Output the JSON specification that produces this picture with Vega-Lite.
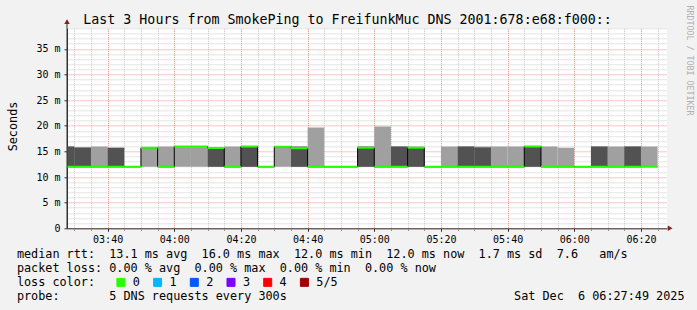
{
  "$schema": "https://vega.github.io/schema/vega-lite/v6.json",
  "autosize": {"type": "none"},
  "width": 600,
  "height": 200,
  "padding": {"left": 67, "top": 28.3, "right": 30, "bottom": 81.7},
  "background": "#f2f2f2",
  "title": {
    "text": "Last 3 Hours from SmokePing to FreifunkMuc DNS 2001:678:e68:f000::",
    "font": "DejaVu Sans Mono",
    "fontSize": 13.3,
    "fontWeight": "normal",
    "color": "#000000",
    "anchor": "middle",
    "frame": "group",
    "dx": -19.5,
    "dy": 36,
    "offset": 4,
    "baseline": "alphabetic"
  },
  "data": {
    "values": [
      {"start": "2025-12-06T03:25:00", "end": "2025-12-06T03:30:00", "lo": 12, "hi": 15.94, "dhi": 15.94, "med": 12, "loss": "0"},
      {"start": "2025-12-06T03:30:00", "end": "2025-12-06T03:35:00", "lo": 12, "hi": 15.75, "dhi": 15.75, "med": 12, "loss": "0"},
      {"start": "2025-12-06T03:35:00", "end": "2025-12-06T03:40:00", "lo": 12, "hi": 15.94, "dhi": null, "med": 12, "loss": "0"},
      {"start": "2025-12-06T03:40:00", "end": "2025-12-06T03:45:00", "lo": 12, "hi": 15.7, "dhi": 15.7, "med": 12, "loss": "0"},
      {"start": "2025-12-06T03:45:00", "end": "2025-12-06T03:50:00", "lo": 12, "hi": 12, "dhi": null, "med": 12, "loss": "0"},
      {"start": "2025-12-06T03:50:00", "end": "2025-12-06T03:55:00", "lo": 12, "hi": 15.8, "dhi": null, "med": 15.7, "loss": "0"},
      {"start": "2025-12-06T03:55:00", "end": "2025-12-06T04:00:00", "lo": 12, "hi": 15.94, "dhi": null, "med": 12, "loss": "0"},
      {"start": "2025-12-06T04:00:00", "end": "2025-12-06T04:05:00", "lo": 12, "hi": 16.0, "dhi": null, "med": 15.95, "loss": "0"},
      {"start": "2025-12-06T04:05:00", "end": "2025-12-06T04:10:00", "lo": 12, "hi": 16.0, "dhi": null, "med": 15.95, "loss": "0"},
      {"start": "2025-12-06T04:10:00", "end": "2025-12-06T04:15:00", "lo": 12, "hi": 15.7, "dhi": 15.7, "med": 15.65, "loss": "0"},
      {"start": "2025-12-06T04:15:00", "end": "2025-12-06T04:20:00", "lo": 12, "hi": 15.94, "dhi": null, "med": 12, "loss": "0"},
      {"start": "2025-12-06T04:20:00", "end": "2025-12-06T04:25:00", "lo": 12, "hi": 15.95, "dhi": 15.9, "med": 15.95, "loss": "0"},
      {"start": "2025-12-06T04:25:00", "end": "2025-12-06T04:30:00", "lo": 12, "hi": 12, "dhi": null, "med": 12, "loss": "0"},
      {"start": "2025-12-06T04:30:00", "end": "2025-12-06T04:35:00", "lo": 12, "hi": 16.0, "dhi": null, "med": 15.9, "loss": "0"},
      {"start": "2025-12-06T04:35:00", "end": "2025-12-06T04:40:00", "lo": 12, "hi": 16.05, "dhi": 15.6, "med": 15.6, "loss": "0"},
      {"start": "2025-12-06T04:40:00", "end": "2025-12-06T04:45:00", "lo": 12, "hi": 19.65, "dhi": null, "med": 12, "loss": "0"},
      {"start": "2025-12-06T04:45:00", "end": "2025-12-06T04:50:00", "lo": 12, "hi": 12, "dhi": null, "med": 12, "loss": "0"},
      {"start": "2025-12-06T04:50:00", "end": "2025-12-06T04:55:00", "lo": 12, "hi": 12, "dhi": null, "med": 12, "loss": "0"},
      {"start": "2025-12-06T04:55:00", "end": "2025-12-06T05:00:00", "lo": 12, "hi": 16.05, "dhi": 15.7, "med": 15.7, "loss": "0"},
      {"start": "2025-12-06T05:00:00", "end": "2025-12-06T05:05:00", "lo": 12, "hi": 19.85, "dhi": null, "med": 12, "loss": "0"},
      {"start": "2025-12-06T05:05:00", "end": "2025-12-06T05:10:00", "lo": 12, "hi": 15.94, "dhi": 15.94, "med": 12, "loss": "0"},
      {"start": "2025-12-06T05:10:00", "end": "2025-12-06T05:15:00", "lo": 12, "hi": 15.94, "dhi": 15.7, "med": 15.7, "loss": "0"},
      {"start": "2025-12-06T05:15:00", "end": "2025-12-06T05:20:00", "lo": 12, "hi": 12, "dhi": null, "med": 12, "loss": "0"},
      {"start": "2025-12-06T05:20:00", "end": "2025-12-06T05:25:00", "lo": 12, "hi": 15.94, "dhi": null, "med": 12, "loss": "0"},
      {"start": "2025-12-06T05:25:00", "end": "2025-12-06T05:30:00", "lo": 12, "hi": 15.94, "dhi": 15.94, "med": 12, "loss": "0"},
      {"start": "2025-12-06T05:30:00", "end": "2025-12-06T05:35:00", "lo": 12, "hi": 15.94, "dhi": 15.75, "med": 12, "loss": "0"},
      {"start": "2025-12-06T05:35:00", "end": "2025-12-06T05:40:00", "lo": 12, "hi": 15.94, "dhi": null, "med": 12, "loss": "0"},
      {"start": "2025-12-06T05:40:00", "end": "2025-12-06T05:45:00", "lo": 12, "hi": 15.94, "dhi": null, "med": 12, "loss": "0"},
      {"start": "2025-12-06T05:45:00", "end": "2025-12-06T05:50:00", "lo": 12, "hi": 16.0, "dhi": 15.95, "med": 15.95, "loss": "0"},
      {"start": "2025-12-06T05:50:00", "end": "2025-12-06T05:55:00", "lo": 12, "hi": 15.94, "dhi": null, "med": 12, "loss": "0"},
      {"start": "2025-12-06T05:55:00", "end": "2025-12-06T06:00:00", "lo": 12, "hi": 15.72, "dhi": null, "med": 12, "loss": "0"},
      {"start": "2025-12-06T06:00:00", "end": "2025-12-06T06:05:00", "lo": 12, "hi": 12, "dhi": null, "med": 12, "loss": "0"},
      {"start": "2025-12-06T06:05:00", "end": "2025-12-06T06:10:00", "lo": 12, "hi": 15.94, "dhi": 15.94, "med": 12, "loss": "0"},
      {"start": "2025-12-06T06:10:00", "end": "2025-12-06T06:15:00", "lo": 12, "hi": 15.94, "dhi": null, "med": 12, "loss": "0"},
      {"start": "2025-12-06T06:15:00", "end": "2025-12-06T06:20:00", "lo": 12, "hi": 15.94, "dhi": 15.94, "med": 12, "loss": "0"},
      {"start": "2025-12-06T06:20:00", "end": "2025-12-06T06:25:00", "lo": 12, "hi": 15.94, "dhi": null, "med": 12, "loss": "0"}
    ]
  },
  "resolve": {"axis": {"x": "independent", "y": "independent"}},
  "layer": [
    {
      "transform": [{"filter": "datum.hi > datum.lo"}],
      "mark": {"type": "rect", "color": "#a0a0a0", "clip": true},
      "encoding": {
        "x": {
          "field": "start", "type": "temporal",
          "scale": {"type": "time", "nice": false, "domain": [{"year": 2025, "month": 12, "date": 6, "hours": 3, "minutes": 27, "seconds": 49}, {"year": 2025, "month": 12, "date": 6, "hours": 6, "minutes": 27, "seconds": 49}]},
          "axis": {
            "orient": "bottom",
            "title": [
              "median\u00a0rtt:\u00a0\u00a013.1\u00a0ms\u00a0avg\u00a0\u00a016.0\u00a0ms\u00a0max\u00a0\u00a012.0\u00a0ms\u00a0min\u00a0\u00a012.0\u00a0ms\u00a0now\u00a0\u00a01.7\u00a0ms\u00a0sd\u00a0\u00a07.6\u00a0\u00a0\u00a0am/s",
              "packet\u00a0loss:\u00a00.00\u00a0%\u00a0avg\u00a0\u00a00.00\u00a0%\u00a0max\u00a0\u00a00.00\u00a0%\u00a0min\u00a0\u00a00.00\u00a0%\u00a0now",
              "loss\u00a0color:",
              "probe:\u00a0\u00a0\u00a0\u00a0\u00a0\u00a0\u00a05\u00a0DNS\u00a0requests\u00a0every\u00a0300s\u00a0\u00a0\u00a0\u00a0\u00a0\u00a0\u00a0\u00a0\u00a0\u00a0\u00a0\u00a0\u00a0\u00a0\u00a0\u00a0\u00a0\u00a0\u00a0\u00a0\u00a0\u00a0\u00a0\u00a0\u00a0\u00a0\u00a0\u00a0\u00a0\u00a0\u00a0\u00a0Sat\u00a0Dec\u00a0\u00a06\u00a006:27:49\u00a02025"
            ],
            "titleFont": "DejaVu Sans Mono",
            "titleFontSize": 11.8,
            "titleFontWeight": "normal",
            "titleColor": "#000000",
            "titleAnchor": "start",
            "titleAlign": "left",
            "titleBaseline": "alphabetic",
            "titleX": -50.6,
            "titleY": 29.4,
            "titleLineHeight": 14,
            "values": [
              {"year": 2025, "month": 12, "date": 6, "hours": 3, "minutes": 40},
              {"year": 2025, "month": 12, "date": 6, "hours": 4, "minutes": 0},
              {"year": 2025, "month": 12, "date": 6, "hours": 4, "minutes": 20},
              {"year": 2025, "month": 12, "date": 6, "hours": 4, "minutes": 40},
              {"year": 2025, "month": 12, "date": 6, "hours": 5, "minutes": 0},
              {"year": 2025, "month": 12, "date": 6, "hours": 5, "minutes": 20},
              {"year": 2025, "month": 12, "date": 6, "hours": 5, "minutes": 40},
              {"year": 2025, "month": 12, "date": 6, "hours": 6, "minutes": 0},
              {"year": 2025, "month": 12, "date": 6, "hours": 6, "minutes": 20}
            ],
            "format": "%H:%M",
            "labelFont": "DejaVu Sans Mono",
            "labelFontSize": 10,
            "labelColor": "#000000",
            "labelOverlap": false,
            "labelFlush": false,
            "labelPadding": 3,
            "tickSize": 3,
            "tickColor": "#333333",
            "grid": true,
            "gridColor": "#f08c8c",
            "gridDash": [1, 1],
            "gridOpacity": 1,
            "domain": true,
            "domainColor": "#333333",
            "zindex": 0
          }
        },
        "x2": {"field": "end"},
        "y": {
          "field": "lo", "type": "quantitative",
          "scale": {"domain": [0, 39], "nice": false, "zero": false},
          "axis": {
            "orient": "left",
            "title": "Seconds",
            "titleFont": "DejaVu Sans Mono",
            "titleFontSize": 11.8,
            "titleFontWeight": "normal",
            "titleColor": "#000000",
            "titleAngle": 270,
            "titleAlign": "center",
            "titleBaseline": "bottom",
            "titleX": -49,
            "titleY": 97.7,
            "values": [0, 5, 10, 15, 20, 25, 30, 35],
            "labelExpr": "datum.value == 0 ? '0' : datum.value + ' m'",
            "labelFont": "DejaVu Sans Mono",
            "labelFontSize": 10,
            "labelColor": "#000000",
            "labelOverlap": false,
            "labelFlush": false,
            "labelPadding": 4,
            "tickSize": 3,
            "tickColor": "#333333",
            "grid": true,
            "gridColor": "#f08c8c",
            "gridDash": [1, 1],
            "gridOpacity": 1,
            "domainColor": "#333333",
            "zindex": 0
          }
        },
        "y2": {"field": "hi"}
      }
    },
    {
      "transform": [{"filter": "isValid(datum.dhi)"}],
      "mark": {"type": "rect", "color": "#525252", "clip": true},
      "encoding": {
        "x": {
          "field": "start", "type": "temporal",
          "scale": {"type": "time", "nice": false, "domain": [{"year": 2025, "month": 12, "date": 6, "hours": 3, "minutes": 27, "seconds": 49}, {"year": 2025, "month": 12, "date": 6, "hours": 6, "minutes": 27, "seconds": 49}]},
          "axis": {
            "orient": "bottom",
            "title": null,
            "values": [
              {"year": 2025, "month": 12, "date": 6, "hours": 3, "minutes": 30},
              {"year": 2025, "month": 12, "date": 6, "hours": 3, "minutes": 35},
              {"year": 2025, "month": 12, "date": 6, "hours": 3, "minutes": 45},
              {"year": 2025, "month": 12, "date": 6, "hours": 3, "minutes": 50},
              {"year": 2025, "month": 12, "date": 6, "hours": 3, "minutes": 55},
              {"year": 2025, "month": 12, "date": 6, "hours": 4, "minutes": 5},
              {"year": 2025, "month": 12, "date": 6, "hours": 4, "minutes": 10},
              {"year": 2025, "month": 12, "date": 6, "hours": 4, "minutes": 15},
              {"year": 2025, "month": 12, "date": 6, "hours": 4, "minutes": 25},
              {"year": 2025, "month": 12, "date": 6, "hours": 4, "minutes": 30},
              {"year": 2025, "month": 12, "date": 6, "hours": 4, "minutes": 35},
              {"year": 2025, "month": 12, "date": 6, "hours": 4, "minutes": 45},
              {"year": 2025, "month": 12, "date": 6, "hours": 4, "minutes": 50},
              {"year": 2025, "month": 12, "date": 6, "hours": 4, "minutes": 55},
              {"year": 2025, "month": 12, "date": 6, "hours": 5, "minutes": 5},
              {"year": 2025, "month": 12, "date": 6, "hours": 5, "minutes": 10},
              {"year": 2025, "month": 12, "date": 6, "hours": 5, "minutes": 15},
              {"year": 2025, "month": 12, "date": 6, "hours": 5, "minutes": 25},
              {"year": 2025, "month": 12, "date": 6, "hours": 5, "minutes": 30},
              {"year": 2025, "month": 12, "date": 6, "hours": 5, "minutes": 35},
              {"year": 2025, "month": 12, "date": 6, "hours": 5, "minutes": 45},
              {"year": 2025, "month": 12, "date": 6, "hours": 5, "minutes": 50},
              {"year": 2025, "month": 12, "date": 6, "hours": 5, "minutes": 55},
              {"year": 2025, "month": 12, "date": 6, "hours": 6, "minutes": 5},
              {"year": 2025, "month": 12, "date": 6, "hours": 6, "minutes": 10},
              {"year": 2025, "month": 12, "date": 6, "hours": 6, "minutes": 15},
              {"year": 2025, "month": 12, "date": 6, "hours": 6, "minutes": 25}
            ],
            "labels": false,
            "tickSize": 2,
            "tickColor": "#888888",
            "grid": true,
            "gridColor": "#c8c8c8",
            "gridDash": [1, 1],
            "gridOpacity": 1,
            "domain": false,
            "zindex": 0
          }
        },
        "x2": {"field": "end"},
        "y": {
          "field": "lo", "type": "quantitative",
          "scale": {"domain": [0, 39], "nice": false, "zero": false},
          "axis": {
            "orient": "left",
            "title": null,
            "values": [1,2,3,4,6,7,8,9,11,12,13,14,16,17,18,19,21,22,23,24,26,27,28,29,31,32,33,34,36,37,38,39],
            "labels": false,
            "ticks": false,
            "domain": false,
            "grid": true,
            "gridColor": "#c8c8c8",
            "gridDash": [1, 1],
            "gridOpacity": 1,
            "zindex": 0
          }
        },
        "y2": {"field": "dhi"}
      }
    },
    {
      "mark": {"type": "line", "interpolate": "step-after", "color": "#000000", "strokeWidth": 1, "clip": true},
      "encoding": {
        "x": {"field": "start", "type": "temporal", "scale": {"type": "time", "nice": false, "domain": [{"year": 2025, "month": 12, "date": 6, "hours": 3, "minutes": 27, "seconds": 49}, {"year": 2025, "month": 12, "date": 6, "hours": 6, "minutes": 27, "seconds": 49}]}, "axis": null},
        "y": {"field": "med", "type": "quantitative", "scale": {"domain": [0, 39], "nice": false, "zero": false}, "axis": null}
      }
    },
    {
      "mark": {"type": "rule", "strokeWidth": 2, "strokeCap": "butt", "clip": true},
      "encoding": {
        "x": {"field": "start", "type": "temporal", "scale": {"type": "time", "nice": false, "domain": [{"year": 2025, "month": 12, "date": 6, "hours": 3, "minutes": 27, "seconds": 49}, {"year": 2025, "month": 12, "date": 6, "hours": 6, "minutes": 27, "seconds": 49}]}, "axis": null},
        "x2": {"field": "end"},
        "y": {"field": "med", "type": "quantitative", "scale": {"domain": [0, 39], "nice": false, "zero": false}, "axis": null},
        "color": {
          "field": "loss", "type": "nominal",
          "scale": {"domain": ["0", "1", "2", "3", "4", "5/5"], "range": ["#26ff00", "#00b8ff", "#0059ff", "#7e00ff", "#ff0000", "#a10000"]},
          "legend": {
            "title": null,
            "orient": "none",
            "legendX": 48,
            "legendY": 248,
            "direction": "horizontal",
            "columns": 6,
            "padding": 0,
            "labelFont": "DejaVu Sans Mono",
            "labelFontSize": 11.8,
            "labelColor": "#000000",
            "labelOffset": 6,
            "columnPadding": 10.7,
            "symbolType": "square",
            "symbolSize": 64,
            "symbolStrokeWidth": 1,
            "symbolStrokeColor": "#000000",
            "encode": {"symbols": {"update": {"fill": {"scale": "color", "field": "value"}, "stroke": {"value": "#000000"}, "strokeWidth": {"value": 1}, "opacity": {"value": 1}, "fillOpacity": {"value": 1}}}}
          }
        }
      }
    },
    {
      "data": {"values": [{}]},
      "mark": {"type": "point", "shape": "triangle-right", "filled": true, "size": 30, "color": "#8b1a1a", "opacity": 1},
      "encoding": {
        "x": {"datum": {"year": 2025, "month": 12, "date": 6, "hours": 6, "minutes": 28, "seconds": 45}, "type": "temporal", "scale": {"type": "time", "nice": false, "domain": [{"year": 2025, "month": 12, "date": 6, "hours": 3, "minutes": 27, "seconds": 49}, {"year": 2025, "month": 12, "date": 6, "hours": 6, "minutes": 27, "seconds": 49}]}, "axis": null},
        "y": {"datum": 0, "type": "quantitative", "scale": {"domain": [0, 39], "nice": false, "zero": false}, "axis": null}
      }
    },
    {
      "data": {"values": [{}]},
      "mark": {"type": "rule", "color": "#333333", "strokeWidth": 1},
      "encoding": {
        "x": {"datum": {"year": 2025, "month": 12, "date": 6, "hours": 3, "minutes": 27, "seconds": 49}, "type": "temporal", "scale": {"type": "time", "nice": false, "domain": [{"year": 2025, "month": 12, "date": 6, "hours": 3, "minutes": 27, "seconds": 49}, {"year": 2025, "month": 12, "date": 6, "hours": 6, "minutes": 27, "seconds": 49}]}, "axis": null},
        "y": {"datum": 0, "type": "quantitative", "scale": {"domain": [0, 39], "nice": false, "zero": false}, "axis": null},
        "y2": {"datum": 40.5}
      }
    },
    {
      "data": {"values": [{}]},
      "mark": {"type": "point", "shape": "triangle-up", "filled": true, "size": 30, "color": "#8b1a1a", "opacity": 1},
      "encoding": {
        "x": {"datum": {"year": 2025, "month": 12, "date": 6, "hours": 3, "minutes": 27, "seconds": 49}, "type": "temporal", "scale": {"type": "time", "nice": false, "domain": [{"year": 2025, "month": 12, "date": 6, "hours": 3, "minutes": 27, "seconds": 49}, {"year": 2025, "month": 12, "date": 6, "hours": 6, "minutes": 27, "seconds": 49}]}, "axis": null},
        "y": {"datum": 40.3, "type": "quantitative", "scale": {"domain": [0, 39], "nice": false, "zero": false}, "axis": null}
      }
    },
    {
      "data": {"values": [{}]},
      "mark": {"type": "rule", "strokeOpacity": 0},
      "encoding": {
        "y": {
          "datum": 0, "type": "quantitative",
          "scale": {"domain": [0, 39], "nice": false, "zero": false},
          "axis": {
            "orient": "right",
            "title": "RRDTOOL / TOBI OETIKER",
            "titleAngle": 90,
            "titleFont": "DejaVu Sans Mono",
            "titleFontSize": 8.3,
            "titleFontWeight": "normal",
            "titleColor": "#b0b0b0",
            "titleAlign": "center",
            "titleBaseline": "middle",
            "titleX": 21,
            "titleY": 31.7,
            "domain": false,
            "ticks": false,
            "labels": false,
            "grid": false
          }
        }
      }
    }
  ],
  "config": {
    "view": {"fill": "#ffffff", "stroke": null},
    "font": "DejaVu Sans Mono"
  }
}
